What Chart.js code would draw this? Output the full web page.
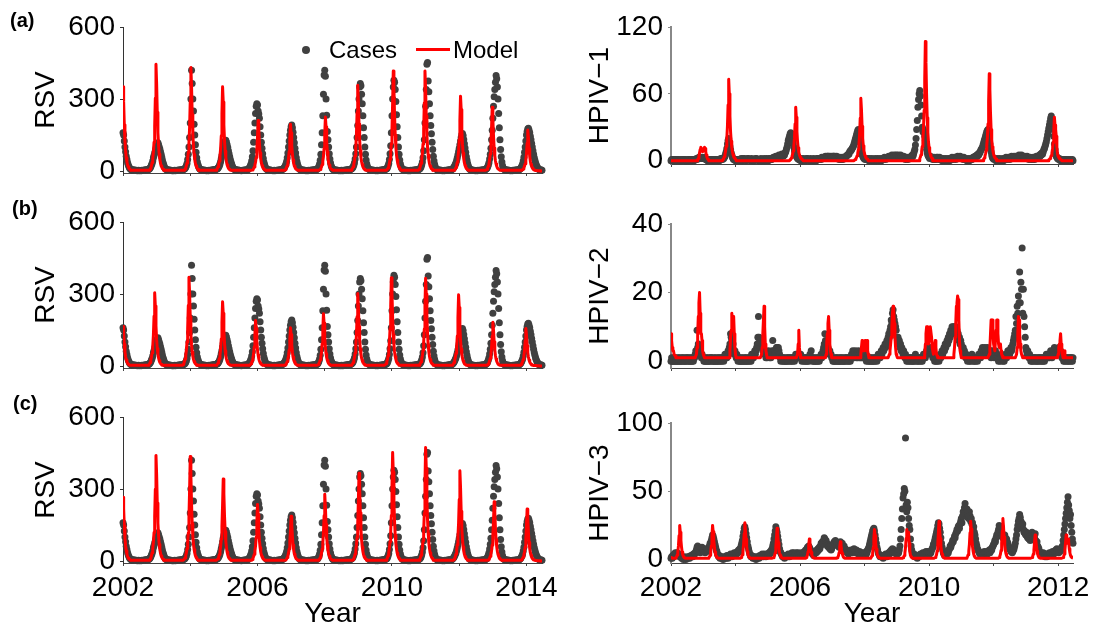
<!DOCTYPE html>
<html>
<head>
<meta charset="utf-8">
<script src="https://cdn.jsdelivr.net/npm/chart.js@4.4.1/dist/chart.umd.min.js"></script>
<style>
  html, body { margin: 0; padding: 0; background: #fff; }
  #wrap { position: relative; width: 1096px; height: 631px; overflow: hidden; background: #fff; font-family: "Liberation Sans", Arial, sans-serif; }
  #wrap canvas { position: absolute; }
  .tag { position: absolute; font-weight: bold; font-size: 20px; line-height: 20px; color: #000; }
  .leg { position: absolute; font-size: 24px; line-height: 24px; color: #000; }
  .dot { position: absolute; width: 8px; height: 8px; border-radius: 50%; background: #404040; }
  .rline { position: absolute; width: 34px; height: 3px; background: #ff0000; }
</style>
</head>
<body>
<div id="wrap">
  <canvas id="rsvA" width="580" height="195" style="left:0;top:0"></canvas>
  <canvas id="rsvB" width="580" height="195" style="left:0;top:195px"></canvas>
  <canvas id="rsvC" width="580" height="241" style="left:0;top:390px"></canvas>
  <canvas id="hpiv1" width="544" height="195" style="left:556px;top:0"></canvas>
  <canvas id="hpiv2" width="544" height="195" style="left:556px;top:195px"></canvas>
  <canvas id="hpiv3" width="544" height="241" style="left:556px;top:390px"></canvas>

  <div class="tag" style="left:10px;top:10px">(a)</div>
  <div class="tag" style="left:12px;top:198px">(b)</div>
  <div class="tag" style="left:13px;top:393px">(c)</div>

  <div class="dot" style="left:302px;top:46px"></div>
  <span class="leg" style="left:329px;top:38px">Cases</span>
  <div class="rline" style="left:416px;top:48px"></div>
  <span class="leg" style="left:453px;top:38px">Model</span>
</div>
<script>
Chart.defaults.font.family = '"Liberation Sans", Arial, sans-serif';

// weekly values, one row per year starting 2002 (last row ends mid 2014)
const startYear = 2002;
const xMax = 2014 + 24 / 52;
const yearTicks = [2002, 2004, 2006, 2008, 2010, 2012, 2014];
const leftYearLabels = ['2002', '', '2006', '', '2010', '', '2014'];
const rightYearLabels = ['2002', '', '2006', '', '2010', '', '2012'];
const rsvTicks = [0, 300, 600];
const hpiv1Ticks = [0, 60, 120];
const hpiv2Ticks = [0, 20, 40];
const hpiv3Ticks = [0, 50, 100];

const rsvCases = [
  [160,150,125,100,80,62,48,36,26,19,14,10,8, 6,5,4,5,3,4,2,3,2,1,2,3,1,2,2,1,3,2,2,3,4,3,5,4,6,5,7, 8,10,14,18,25,32,42,55,65,75,85,95],
  [105,112,118,110,100,92,80,70,58,45,35,26,18,12,9,7, 6,5,4,3,4,2,3,2,1,2,1,2,3,1,2,2,3,2,4,3,4,5,4,6,5,7,8,9, 12,16,22,32,48,70,100,140],
  [200,300,420,365,300,250,195,150,110,78,55,38,26,18,12,9, 7,6,5,4,3,4,2,3,2,1,2,2,1,3,2,2,3,4,3,5,4,6,5,7,8,9, 10,13,17,22,30,40,52,65,80,95],
  [108,118,125,128,120,110,98,85,72,60,48,38,29,21,15,11,8,7, 6,5,4,3,4,2,3,2,2,1,2,3,2,3,4,3,5,4, 5,7,9,12,16,22,30,42,60,85,120,160,200,240,270,280],
  [275,250,238,220,185,150,120,95,72,52,37,26,18,12,9,7, 6,5,4,3,4,3,2,2,1,2,3,1,2,2,3,2,4,3,5,4,5,6, 7,8,10,13,17,22,30,40,55,75,100,125,150,170],
  [185,192,180,162,140,118,95,75,56,40,28,19,13,9,7,6, 5,4,3,4,2,3,2,1,2,2,1,3,2,2,3,2,4,3,4,5,4,6,5,7, 8,10,14,20,30,45,70,110,160,230,320,400],
  [420,395,300,232,165,130,100,72,50,34,22,15,10,7, 6,5,4,3,4,2,3,2,1,2,2,1,3,2,1,2,3,2,4,3,5,4,6,5,7,6,8,9, 11,14,18,25,35,50,72,100,140,190],
  [250,300,350,365,355,320,280,230,180,140,100,70,46,30,19,12,9,7, 6,5,4,3,4,2,3,2,2,1,2,3,1,2,2,3,2,4,3,5,4,6,5,7,8,9, 11,15,22,32,48,72,105,160],
  [230,300,350,378,370,340,290,235,185,140,100,70,46,30,19,12,9,7, 6,5,4,3,2,3,2,1,2,2,1,3,2,2,3,2,4,3,4,5,4,6,5,7,8,10, 13,18,26,38,56,85,130,200],
  [270,340,445,452,375,330,280,230,190,155,120,90,62,42,27,17,11,8, 6,5,4,3,4,2,3,2,1,2,2,1,3,2,2,3,4,3,5,4,6,5, 6,8,10,13,17,22,28,35,45,55,68,82],
  [95,110,125,140,152,156,148,132,114,96,78,60,45,32,22,14,9,7, 6,5,4,3,2,3,2,1,2,2,1,3,2,2,3,2,4,3,4,5,4,5, 6,8,10,13,18,25,35,50,70,95,130,170],
  [220,270,310,340,370,398,385,350,300,240,180,130,90,60,38,22,13,9, 7,6,5,4,3,4,2,3,2,1,2,2,1,3,2,3,2,4,3,5,4,5, 5,7,9,12,16,22,30,42,58,78,100,125],
  [150,165,175,178,170,160,145,130,115,100,85,70,57,45,35,27,20,15,11,8,6,5,4,4,3]
];

const rsvModelA = [
  [351,288,193,126,84,56,39,26,18,12,9,6, 3,3,3,3,3,3,3,3,3,3, 3,3,3,3,3,3,3,3,3,3, 3,3,3,3,3,3,3,3,3,3, 9,13,22,36,53,80,120,187,303,445],
  [365,245,160,107,71,49,33,22,16,11,8, 3,3,3,3,3,3,3,3,3,3, 3,3,3,3,3,3,3,3,3,3, 3,3,3,3,3,3,3,3,3,3, 3,3,3, 9,13,22,34,52,78,116,181],
  [293,431,353,237,155,103,69,47,32,22,15,11,8, 3,3,3,3,3,3,3,3,3,3, 3,3,3,3,3,3,3,3,3,3, 3,3,3,3,3,3,3,3, 7,11,18,28,42,63,95,147,239,351,288],
  [193,126,84,56,39,26,18,12,9,6, 3,3,3,3,3,3,3,3,3,3, 3,3,3,3,3,3,3,3,3,3, 3,3,3,3,3,3,3,3,3,3, 3,3,3,3, 4,6,11,17,25,38,57,89],
  [143,211,173,116,76,51,34,23,16,11,7,5,4, 3,3,3,3,3,3,3,3,3,3, 3,3,3,3,3,3,3,3,3,3, 3,3,3,3,3,3,3,3,3, 4,6,10,16,23,35,53,82,133,195],
  [160,107,70,47,31,21,15,10,7,5,4, 3,3,3,3,3,3,3,3,3,3, 3,3,3,3,3,3,3,3,3,3, 3,3,3,3,3,3,3,3,3,3, 3,3,3, 5,7,11,18,27,41,61,95],
  [153,225,185,124,81,54,36,25,17,11,8,6,4, 3,3,3,3,3,3,3,3,3,3, 3,3,3,3,3,3,3,3,3,3, 3,3,3,3,3,3,3,3,3, 7,11,18,29,43,64,96,150,243,357],
  [293,196,129,86,57,39,27,18,12,9,6, 3,3,3,3,3,3,3,3,3,3, 3,3,3,3,3,3,3,3,3,3, 3,3,3,3,3,3,3,3,3,3, 3,3,3,3, 8,13,21,33,50,75,113],
  [175,284,417,342,229,150,100,67,46,31,21,15,10,8, 3,3,3,3,3,3,3,3,3,3, 3,3,3,3,3,3,3,3,3,3, 3,3,3,3,3,3,3,3, 8,13,21,33,50,75,113,175,284,417],
  [342,229,150,100,67,46,31,21,15,10,8, 3,3,3,3,3,3,3,3,3,3, 3,3,3,3,3,3,3,3,3,3, 3,3,3,3,3,3,3,3,3,3, 3,3,3,3, 6,9,16,25,37,56,84],
  [131,212,312,256,172,112,75,50,34,23,16,11,8,6, 3,3,3,3,3,3,3,3,3,3, 3,3,3,3,3,3,3,3,3,3, 3,3,3,3,3,3,3,3, 5,8,13,21,32,48,72,112,181,266],
  [218,146,96,64,43,29,20,13,9,7,5, 3,3,3,3,3,3,3,3,3,3, 3,3,3,3,3,3,3,3,3,3, 3,3,3,3,3,3,3,3,3,3, 3,3,3,3, 3,5,9,14,21,31,46],
  [72,116,171,140,94,62,41,27,19,13,9,6,4,3, 3,2,2,2,1,1,1,1,0,0,0]
];

const rsvModelB = [
  [165,135,91,59,40,26,18,12,8,6,4, 3,3,3,3,3,3,3,3,3,3, 3,3,3,3,3,3,3,3,3,3, 3,3,3,3,3,3,3,3,3, 6,9,15,24,37,55,82,128,207,305,250,168],
  [110,73,49,34,23,15,11,8,5, 3,3,3,3,3,3,3,3,3,3, 3,3,3,3,3,3,3,3,3,3, 3,3,3,3,3,3,3,3,3,3, 3,3, 7,11,19,30,44,67,100,155,252,370,303],
  [204,133,89,59,41,28,19,13,9,7, 3,3,3,3,3,3,3,3,3,3, 3,3,3,3,3,3,3,3,3,3, 3,3,3,3,3,3,3,3,3,3, 3, 5,8,13,21,32,48,72,113,182,268,220],
  [147,96,64,43,29,20,13,9,7,5, 3,3,3,3,3,3,3,3,3,3, 3,3,3,3,3,3,3,3,3,3, 3,3,3,3,3,3,3,3,3,3, 4,6,10,15,23,34,51,80,129,190,156,105],
  [68,46,30,21,14,10,7,5,3, 3,3,3,3,3,3,3,3,3,3, 3,3,3,3,3,3,3,3,3,3, 3,3,3,3,3,3,3,3,3,3, 3,3,3, 3,5,8,13,19,29,43,67,109,160],
  [131,88,58,38,26,18,12,8,6,4,3, 3,3,3,3,3,3,3,3,3,3, 3,3,3,3,3,3,3,3,3,3, 3,3,3,3,3,3,3,3,3,3, 4,7,11,17,26,39,59,92,148,218,179],
  [120,78,52,35,24,16,11,8,5,4, 3,3,3,3,3,3,3,3,3,3, 3,3,3,3,3,3,3,3,3,3, 3,3,3,3,3,3,3,3,3,3, 3,3, 6,9,15,24,36,54,82,127,205,302],
  [248,166,109,72,48,33,23,15,11,8,5, 3,3,3,3,3,3,3,3,3,3, 3,3,3,3,3,3,3,3,3,3, 3,3,3,3,3,3,3,3,3,3, 3, 7,11,18,29,44,66,99,155,250,368],
  [302,202,132,88,59,40,28,18,13,9,7, 3,3,3,3,3,3,3,3,3,3, 3,3,3,3,3,3,3,3,3,3, 3,3,3,3,3,3,3,3,3,3, 3,3, 7,11,18,29,44,66,99,154,249],
  [366,300,201,132,88,59,40,27,18,13,9,7, 3,3,3,3,3,3,3,3,3,3, 3,3,3,3,3,3,3,3,3,3, 3,3,3,3,3,3,3,3,3,3, 6,9,15,24,36,53,80,125,202,297],
  [244,163,107,71,48,33,22,15,10,7,5, 3,3,3,3,3,3,3,3,3,3, 3,3,3,3,3,3,3,3,3,3, 3,3,3,3,3,3,3,3,3,3, 3,3, 4,5,9,15,22,33,49,77,124],
  [183,150,101,66,44,29,20,14,9,6,5,3, 3,3,3,3,3,3,3,3,3,3, 3,3,3,3,3,3,3,3,3,3, 3,3,3,3,3,3,3,3,3,3, 3,5,8,13,19,28,42,66,107,157],
  [129,86,57,38,25,17,12,8,5,4,3, 3,2,2,2,2,1,1,1,1,1,0,0,0,0]
];

const rsvModelC = [
  [266,218,146,96,64,43,29,20,13,9,7,5, 3,3,3,3,3,3,3,3,3,3, 3,3,3,3,3,3,3,3,3,3, 3,3,3,3,3,3,3,3,3,3, 9,13,22,35,53,79,119,185,299,440],
  [361,242,158,106,70,48,33,22,15,11,8, 3,3,3,3,3,3,3,3,3,3, 3,3,3,3,3,3,3,3,3,3, 3,3,3,3,3,3,3,3,3,3, 3,3, 9,13,22,35,52,78,117,183,296],
  [435,357,239,157,104,70,48,33,22,15,11,8, 3,3,3,3,3,3,3,3,3,3, 3,3,3,3,3,3,3,3,3,3, 3,3,3,3,3,3,3,3,3,3, 7,10,17,27,41,62,92,144,233,342],
  [280,188,123,82,55,38,26,17,12,9,6, 3,3,3,3,3,3,3,3,3,3, 3,3,3,3,3,3,3,3,3,3, 3,3,3,3,3,3,3,3,3,3, 3,3, 5,7,12,19,28,42,64,99,160],
  [236,194,130,85,57,38,26,18,12,8,6,4, 3,3,3,3,3,3,3,3,3,3, 3,3,3,3,3,3,3,3,3,3, 3,3,3,3,3,3,3,3,3,3, 3, 4,6,9,15,22,34,50,79,127],
  [187,153,103,67,45,30,21,14,9,7,5,3, 3,3,3,3,3,3,3,3,3,3, 3,3,3,3,3,3,3,3,3,3, 3,3,3,3,3,3,3,3,3,3, 3, 6,8,14,22,33,50,75,117,189],
  [278,228,153,100,67,44,31,21,14,10,7,5, 3,3,3,3,3,3,3,3,3,3, 3,3,3,3,3,3,3,3,3,3, 3,3,3,3,3,3,3,3,3,3, 3,3, 7,11,18,29,44,66,99,154],
  [249,366,300,201,132,88,59,40,27,18,13,9,7, 3,3,3,3,3,3,3,3,3,3, 3,3,3,3,3,3,3,3,3,3, 3,3,3,3,3,3,3,3,3,3, 3, 9,14,23,36,54,81,122,190],
  [307,452,371,249,163,108,72,50,34,23,16,11,8, 3,3,3,3,3,3,3,3,3,3, 3,3,3,3,3,3,3,3,3,3, 3,3,3,3,3,3,3,3,3,3, 9,14,24,38,57,85,128,199,322],
  [473,388,260,170,114,76,52,35,24,17,12,9, 3,3,3,3,3,3,3,3,3,3, 3,3,3,3,3,3,3,3,3,3, 3,3,3,3,3,3,3,3,3,3, 3,3, 8,11,19,30,45,68,102,158],
  [256,376,308,207,135,90,60,41,28,19,13,9,7, 3,3,3,3,3,3,3,3,3,3, 3,3,3,3,3,3,3,3,3,3, 3,3,3,3,3,3,3,3,3,3, 3,3, 5,7,12,20,30,44,67],
  [104,168,247,203,136,89,59,40,27,19,12,9,6,4, 3,3,3,3,3,3,3,3,3,3, 3,3,3,3,3,3,3,3,3,3, 3,3,3,3,3,3,3,3,3,3, 4,7,11,17,26,39,59,91],
  [148,217,178,119,78,52,35,24,16,11,8,5,4, 3,3,2,2,2,1,1,1,1,0,0,0]
];

const hpiv1Cases = [
  [0,1,0,1,1,0,0,1,0,1, 1,0,1,0,0,1,0,0,1,1, 0,1,0,1,0,0,0,1,1,0, 1,0,0,1,1,0,1,0,1,1, 1,2,1,2,2,3,2,3,2,2, 3,2],
  [2,2,3,2,1,1,1,0,0,1,1, 0,0,1,1,0,0,1,0,1,0,1,1,0,1,1,0,1,2,1,2,1,2,2, 3,4,6,8,11,15,18,20,17,13,10,7, 5,3,2,1,1,1],
  [0,1,1,0,1,1,0,1,1,2, 1,0,2,1,2,1,1,0,1,2, 1,2,1,1,0,1,2,1,0,1, 0,1,2,1,2,1,1,0,1,0, 1,2,0,1,0,1,2,1,0,1, 2,1],
  [1,0,2,1,2,1,1,2,2,3,2, 2,3,4,3,2,4,3,5,4,3,5,4,6,5,4,6,5,7,8, 10,12,15,18,20,22,24,25,23,21,18,15, 12,9,7,5,4,3,2,2,1,1],
  [1,0,2,1,0,1,2,1,1,0, 1,2,2,1,1,0,1,2,1,0, 1,0,2,1,0,1,0,2,1,2, 2,1,2,2,1,3,2,2,3,2, 3,4,2,3,4,4,3,4,2,3, 4,3],
  [3,4,4,3,4,2,3,4,2,3, 2,1,3,2,1,2,3,1,2,3, 3,3,4,4,5,5,6,6,8,9, 9,10,11,12,13,15,17,19,21,23,25,27, 28,24,20,16,12,9,6,4,3,2],
  [2,1,2,1,1,2,1,0,2,1, 0,1,2,1,0,1,0,2,1,0, 1,2,0,1,1,2,1,0,1,2, 1,2,3,2,1,2,3,2,3,4, 3,2,4,3,5,4,3,4,5,4, 3,5],
  [4,3,5,4,3,4,5,3,4,2,3,4,2,3,1,2,3,2,1,2, 2,3,2,4,3,5,4,6,8,10,14,20,28,36,48,55, 60,63,58,50,40,30,26,28,25,22,18,14,10,7,5,4],
  [3,2,4,3,2,3,1,2,3,1, 2,1,3,2,3,2,1,3,2,1, 2,0,1,2,1,0,1,2,1,0, 1,2,1,0,1,2,1,3,2,1, 2,3,2,1,3,2,4,3,2,3, 4,3],
  [2,3,2,1,3,2,1,2,1,0, 1,2,1,0,1,2,1,1,2,3, 2,3,4,3,4,5,4,6,5,7, 7,9,10,11,12,14,16,18,20,22,24,26, 27,28,24,20,15,11,8,5,3,2],
  [2,1,2,1,0,1,2,1,0,1, 2,1,0,1,1,2,0,1,2,1, 3,2,1,2,3,2,1,3,2,4, 3,2,3,4,2,3,4,3,2,4, 3,5,4,3,4,5,3,4,2,3, 4,3],
  [2,3,4,2,3,1,2,3,2,1, 2,1,3,2,1,2,3,4,3,2, 4,3,5,4,6,5,7,6,8,10, 11,13,15,17,20,23,26,29,32,35,38,40, 36,33,28,22,15,10,6,4,3,2],
  [2,1,2,1,0,1,0,1,0,0,1,1,0,0,1,0,0,1,0,0,1,0,0,1,0]
];

const hpiv1Model = [
  [0,0,0,0,0,0,0,0,0,0, 0,0,0,0,0,0,0,0,0,0, 0,0,0,0,0,0,0,0,0,0, 0,0,0,0,0,0,0,0,0,0, 0,0,0, 1,2,4,7,10,12,11,9,8],
  [9,11,12,11,8,5,3,1.5,1, 0,0,0,0,0,0,0,0,0,0, 0,0,0,0,0,0,0,0,0,0, 0,0,0, 1.5,2.2,3.7,5.8,8.8,13,20,31,50,73,60,40,26,17.5,11.7,8,5.5,3.7,2.6,1.8],
  [1.3, 0,0,0,0,0,0,0,0,0,0, 0,0,0,0,0,0,0,0,0,0, 0,0,0,0,0,0,0,0,0,0, 0,0,0,0,0,0,0,0,0,0, 0,0,0,0,0,0,0,0,0,0, 0],
  [0,0,0,0,0,0,0,0,0,0, 0,0,0,0,0,0,0,0,0,0, 0,0,0,0,0,0,0,0,0,0, 0,0,0,0,0,0, 1,1.4,2.4,3.8,5.8,8.6,13,20,33,48,39,26,17,11.5,7.7,5.3],
  [3.6,2.4,1.7,1.2,0.9, 0,0,0,0,0,0,0,0,0,0, 0,0,0,0,0,0,0,0,0,0, 0,0,0,0,0,0,0,0,0,0, 0,0,0,0,0,0,0,0,0,0, 0,0,0,0,0,0,0],
  [0,0,0,0,0,0,0,0,0,0, 0,0,0,0,0,0,0,0,0,0, 0,0,0,0,0,0,0,0,0,0, 0,0,0,0,0,0,0, 1.1,1.7,2.8,4.5,6.7,10,15,23.5,38,56,46,31,20,13.4,9],
  [6.2,4.2,2.8,2,1.4,1, 0,0,0,0,0,0,0,0,0,0, 0,0,0,0,0,0,0,0,0,0, 0,0,0,0,0,0,0,0,0,0, 0,0,0,0,0,0,0,0,0,0, 0,0,0,0,0,0],
  [0,0,0,0,0,0,0,0,0,0, 0,0,0,0,0,0,0,0,0,0, 0,0,0,0,0,0,0,0,0,0, 0,0,0,0,0,0,0, 2.1,3.2,5.4,8.6,12.8,19,29,45,73,107,88,59,38.5,25.7,17],
  [11.8,8,5.4,3.7,2.7,1.9, 0,0,0,0,0,0,0,0,0,0, 0,0,0,0,0,0,0,0,0,0, 0,0,0,0,0,0,0,0,0,0, 0,0,0,0,0,0,0,0,0,0, 0,0,0,0,0,0],
  [0,0,0,0,0,0,0,0,0,0, 0,0,0,0,0,0,0,0,0,0, 0,0,0,0,0,0,0,0,0,0, 0,0,0,0,0,0, 1.6,2.3,3.9,6.2,9.4,14,21,33,53,78,64,43,28,18.7,12.5,8.6],
  [5.9,3.9,2.7,2,1.4, 0,0,0,0,0,0,0,0,0,0, 0,0,0,0,0,0,0,0,0,0, 0,0,0,0,0,0,0,0,0,0, 0,0,0,0,0,0,0,0,0,0, 0,0,0,0,0,0,0],
  [0,0,0,0,0,0,0,0,0,0, 0,0,0,0,0,0,0,0,0,0, 0,0,0,0,0,0,0,0,0,0, 0,0,0,0,0,0,0, 0.8,1.2,2,3.1,4.7,7,10.5,16.4,26.5,39,32,28,22,12,6],
  [4,2.9,2,1.4,1,0.7, 0,0,0,0,0,0,0,0,0,0, 0,0,0,0,0,0,0,0,0]
];

const hpiv2Cases = [
  [0,1,0,0,1,0,1,0,0,1, 0,0,1,0,1,0,0,1,0,1, 0,1,0,0,1,0,1,1,0,0, 1,0,1,0,0,1,0,1, 1,2,3,2,9,4,5,3,2,3,2,1,2,1],
  [1,0,1,0,0,1,0,1,0,0, 1,0,1,1,0,1,0,0,1,0, 1,0,0,1,0,1,0,1,0,1, 0,1,1,0,1,2,1,2,1,2, 3,2,4,5,8,7,6,4,5,3,2,3],
  [2,1,2,1,0,1,1,0, 0,1,0,1,0,0,1,0,1,0,1,0,0,1,1,0,1,0,2,1,2,1,2,3,2,3,4, 5,7,13,7,6,5,4,6,5,3,4,3,2,2,1,2,1],
  [2,3,2,1,2,1,2,3,6,2,3,2,3,2,4,4,3,4,3,2, 1,0,1,1,0,1,0,1,0,0, 1,0,1,0,1,1,0,1,0,1, 0,1,1,0,1,2,1,2,1,2, 1,2],
  [1,2,1,0,1,1,0,1,0,1, 0,1,0,1,0,1,2,1,3,1, 0,1,0,1,0,0,1,0,1,0, 1,0,1,1,2,1,2,3,4,5, 8,6,5,4,3,4,3,2,3,2, 2,1],
  [1,0,1,0,0,1,0,1,0,1, 0,0,1,0,1,0,1,0,0,1, 0,1,0,1,1,0,1,0,1,0, 1,2,1,3,2,1,2,3,2,1, 2,1,3,2,1,2,1,2,1,2, 1,2],
  [1,2,1,0,1,1,0,1,0,1, 0,1,0,0,1,0,1,0,1,1, 0,1,2,1,2,1, 2,3,2,3,4,3,4,5,4,5, 6,5,7,8,7,9,10,12,11,14, 15,13,12,11,10,9],
  [7,6,7,5,6,4,5,3,4,3,2,3,2,1,2,1, 0,1,0,1,1,0,1,0,1,0, 1,0,0,1,2,1,0,1,0,1, 0,1,1,0,1,0,1,2,1,2, 1,2,3,2,3,4],
  [3,4,3,2,3,2,1,2,1,0, 1,0,1,0,1,1,0,1,2,1, 2,3,2,3,4,3,5,4,5,6, 5,7,6,8,7,9,8,10,9,10, 8,10,9,10,8,9,7,8,6,7, 5,6],
  [5,4,3,4,2,3,2,1,2,1, 0,1,1,0,1,0,1,2,1,0, 1,0,1,0,1,1,0,1,2,1, 2,1,3,2,4,3,2,3,4,2, 3,2,4,3,2,3,2,3,1,2, 3,2],
  [2,1,2,3,2,1,2,1,0,1, 1,0,1,2,1,0,1,0,1,1, 2,1,2,3,2,3,2,3,4,3, 4,5,6, 7,8,9,13,11,16,14,19,17,26,17,23,21,33,14,21,13,10,7],
  [4,3,2,3,2,1,2,1,0,1, 0,1,0,1,1,0,1,0,1,0, 1,0,1,1,0,1,0,1,0,1, 0,1,1,2,1,2,1,2,1,2, 3,2,1,2,3,2,4,3,2,3, 2,3],
  [3,4,3,2,3,2,1,2,1,0,1,0,1,1,0,1,0,1,0,1,1,0,1,0,1]
];

const hpiv2Model = [
  [8,6,4,3,3,2,2,1.5,1, 1,1,1,1,1,1,1,1,1,1, 1,1,1,1,1,1,1,1,1,1, 1,1,1,1,1,1,1,1,1,1, 1,1, 2,4,8,13,17,20,14,8,8,6,3],
  [2,1.5,1,1, 1,1,1,1,1,1,1,1,1,1, 1,1,1,1,1,1,1,1,1,1, 1,1,1,1,1,1,1,1,1,1, 1,1,1,1,1,1,1,1,1, 3,7,9,14,12,11,13,8,4],
  [2,1,1, 1,1,1,1,1,1,1,1,1,1, 1,1,1,1,1,1,1,1,1,1, 1,1,1,1,1,1,1,1,1,1, 1,1,1,1,1,1,1,1,1, 2,4,8,12,16,10,5,3,2,1],
  [1,1,1,1,1,1,1,1,1,1, 1,1,1,1,1,1,1,1,1,1, 1,1,1,1,1,1,1,1,1,1, 1,1,1,1,1,1,1,1,1,1, 1,1,1,1,1,1,1,1, 2,5,9,4],
  [2,1, 1,1,1,1,1,1,1,1,1,1, 1,1,1,1,1,1,1,1,1,1, 1,1,1,1,1,1,1,1,1,1, 1,1,1,1,1,1,1,1,1,1, 2,5,8,11,13,9,5,3,2,1],
  [1,1,1,1,1,1,1,1,1,1, 1,1,1,1,1,1,1,1,1,1, 1,1,1,1,1,1,1,1,1,1, 1,1,1,1,1,1,1,1,1,1, 1,1,1,1,1,1, 2,4,6,5,3,4],
  [5,6,4,3,6,3,2, 1,1,1,1,1,1,1,1,1,1, 1,1,1,1,1,1,1,1,1,1, 1,1,1,1,1,1,1,1,1,1, 1,1,1, 2,3,5,7,10,14,16,15,11,7,4,2],
  [1.5,1, 1,1,1,1,1,1,1,1,1,1, 1,1,1,1,1,1,1,1,1,1, 1,1,1,1,1,1,1,1,1,1, 1,1,1,1,1,1,1,1,1,1, 1,1,1, 2,5,8,10,10,7,5],
  [6,8,10,10,7,4,3,2,3,5,6,4,2,1.5,1, 1,1,1,1,1,1,1,1,1,1, 1,1,1,1,1,1,1,1,1,1, 1,1,1,1,1, 2,4,7,11,16,17,19,18,12,6,3,2],
  [1,1,1,1,1,1,1,1,1,1, 1,1,1,1,1,1,1,1,1,1, 1,1,1,1,1,1,1,1,1,1, 1,1,1,1,1,1,1,1,1,1, 1,1,1,1,1, 2,4,8,12,11,12,8],
  [5,4,3,6,9,12,12,8,5,4,5,5,3,2,1.5,1, 1,1,1,1,1,1,1,1,1,1, 1,1,1,1,1,1,1,1,1,1, 1, 2,4,8,13,12,8,5,3,2,1.5,1,1,1,1,1],
  [1,1,1,1,1,1,1,1,1,1, 1,1,1,1,1,1,1,1,1,1, 1,1,1,1,1,1,1,1,1,1, 1,1,1,1,1,1,1,1,1,1, 1,1,1,1,1,1,1,1,1,1, 1,1],
  [2,4,5,6,8,5,3,2, 1,2,3,1.5, 1,1,1,1,1,1,1,1,1,1,1,1,1]
];

const hpiv3Cases = [
  [1,2,1,3,2,4,3,5,4,3, 5,4,3,4,2,3,2,1,2,1, 0,1,2,1,0,1,1,2,1,2, 1,2,3,2,3,2,4,3,4,5, 6,7,9,10,8,6,7,5,6,8, 9,7],
  [8,6,7,5,6,8,6,7,8,9, 10,12,11,14,16,18,17,15,13,11, 9,7,6,4,3,2,3,1,2,1, 2,1,0,1,2,1,2,1,3,2, 1,2,3,2,4,3,2,3,4,3, 5,4],
  [3,5,4,6,5,7,6,8,7,10, 12,14,17,20,23,24,22,19,16,13, 10,8,6,4,3,2,3,2,1,2, 1,2,1,0,1,2,1,2,1,3, 2,3,2,4,3,2,3,4,3,2, 3,4],
  [3,4,5,4,6,5,7,8,10,12, 15,18,21,24,22,20,17,14,11,8, 6,5,4,3,2,3,2,1,2,3, 2,3,2,4,3,2,3,4,3,5, 4,3,5,4,3,4,5,3,4,5, 4,3],
  [4,3,5,4,3,5,4,6,5,7, 6,8,9,8,10,9,8,7,6,5, 4,5,3,4,5,6,5,7,6,8, 7,9,8,10,12,11,13,12,14,16, 15,13,14,12,10,11,9,10,8,9, 7,8],
  [10,11,12,13,12,14,13,11,12,10, 11,9,12,13,11,10,12,9,8,10, 7,8,6,7,5,6,4,5,6,5, 7,6,5,7,6,8,7,6,5,7, 6,5,4,5,6,4,5,3,4,5, 4,3],
  [4,5,3,6,5,7,8,9,11,13, 15,17,19,21,22,23,21,18,15,12, 9,7,5,4,3,2,3,2,3,2, 1,2,3,2,4,3,2,4,3,5, 4,6,5,7,6,8,5,6,7,5, 6,4],
  [5,4,6,5,7,10,15,22,30,37, 45,48,52,50,89,40,35,42,38,30, 25,22,15,10,7,5,4,3,4,2, 3,2,3,1,2,3,2,3,4,3, 4,3,5,4,3,5,4,6,5,4, 6,5],
  [5,4,6,5,7,8,9,11,12,14, 16,18,20,22,25,27,26,23,20,16, 12,9,7,5,4,3,4,3,5,4, 6,5,7,8,10,9,11,12,14,13, 15,17,16,19,20,22,21,24,25,23, 26,28],
  [30,27,32,35,33,38,41,36,34,37, 31,33,30,35,32,28,30,26,27,22, 24,20,18,15,12,10,8,7,6,5, 4,5,3,4,5,3,4,6,5,4, 5,6,4,5,6,7,5,6,8,7, 9,10],
  [11,12,14,13,16,18,17,20,22,25, 23,20,24,18,19,16,17,15,18,16, 14,15,13,12,10,9,8,7,6,7, 5,6,7,8,10,12,15,18,22,25, 28,30,33,31,28,27,24,26,22,20, 21,19],
  [18,20,17,16,19,15,17,14,18,16, 20,17,15,18,16,19,14,12,13,10, 9,8,6,5,4,5,3,4,5,3, 4,2,3,4,2,3,4,3,5,4, 3,5,4,6,5,4,6,5,7,6, 8,7],
  [6,5,7,6,8,7,9,10,14,18,22,26,30,34,38,42,46,40,36,30,33,25,20,15,12]
];

const hpiv3Model = [
  [1.5,1.2,1,1,1,1,1,1, 1.5,2,3.3,5.5,10,17.5,25,20,14,9,5.5,3.5,2.3,1.5,1.2, 1,1,1,1,1,1,1,1,1,1, 1,1,1,1,1,1,1,1,1,1, 1,1,1,1,1,1,1,1,1],
  [1,1,1,1,1,1,1,1,1, 1.4,2,3.2,5.6,10,17,25,20.5,14,9,5.6,3.4,2.2,1.5,1.2, 1,1,1,1,1,1,1,1,1,1, 1,1,1,1,1,1,1,1,1,1, 1,1,1,1,1,1,1,1],
  [1,1,1,1,1,1,1,1,1, 1.5,2.2,3.5,6,11,19,27,21.6,15,9.5,6,3.8,2.4,1.6,1.3, 1,1,1,1,1,1,1,1,1,1, 1,1,1,1,1,1,1,1,1,1, 1,1,1,1,1,1,1,1],
  [1,1,1,1,1,1,1,1,1, 1.4,1.8,3,5,9.2,16,23,18.4,12.6,8,5,3.2,2,1.4,1.2, 1,1,1,1,1,1,1,1,1,1, 1,1,1,1,1,1,1,1,1,1, 1,1,1,1,1,1,1,1],
  [1,1,1,1,1,1,1,1,1, 1.2,1.5,2,3.3,6,10.5,15,12,8.3,5.3,3.3,2.1,1.5,1.2,1, 1,1,1,1,1,1,1,1,1,1, 1,1,1,1,1,1,1,1,1,1, 1,1,1,1,1,1,1,1],
  [1,1,1,1,1,1,1, 1.2,1.4,1.7,2.9,5.2,9,13,10.4,7,4.5,2.9,1.8,1.3,1.1,1, 1,1,1,1,1,1,1,1,1,1, 1,1,1,1,1,1,1,1,1,1, 1,1,1,1,1,1,1,1,1,1],
  [1,1,1,1,1,1,1,1,1,1, 1.3,1.8,2.9,4.8,8.8,15.4,22,17.6,12,7.7,4.8,3,2,1.4,1.2, 1,1,1,1,1,1,1,1,1,1, 1,1,1,1,1,1,1,1,1,1, 1,1,1,1,1,1,1],
  [1,1,1,1,1,1,1,1,1,1, 1.3,1.8,2.9,4.8,8.8,15.4,22,17,15,20,12,6,3,2,1.4, 1,1,1,1,1,1,1,1,1,1, 1,1,1,1,1,1,1,1,1,1, 1,1,1,1,1,1,1],
  [1,1,1,1,1,1,1,1,1,1, 1.5,2.2,3.6,6.2,11.2,19.6,28,22.4,15.4,9.8,6.2,3.9,2.5,1.7,1.3, 1,1,1,1,1,1,1,1,1,1, 1,1,1,1,1,1,1,1,1,1, 1,1,1,1,1,1,1],
  [1,1,1,1,1,1,1,1,1, 1.5,2.2,3.6,6.2,11.2,19.6,28,22.4,15.4,9.8,6.2,3.9,2.5,1.7,1.3, 1,1,1,1,1,1,1,1,1,1, 1,1,1,1,1,1,1,1,1,1, 1,1,1,1,1,1,1,1],
  [1,1,1,1,1,1,1,1,1, 1.6,2.4,3.9,6.6,12,21,30,24,16.5,10.5,6.6,4.2,2.7,1.8,1.4, 1,1,1,1,1,1,1,1,1,1, 1,1,1,1,1,1,1,1,1,1, 1,1,1,1,1,1,1,1],
  [1,1,1,1,1,1,1,1,1, 1.3,1.5,2.3,4,7.2,12.6,18,14.4,10,6.3,4,2.5,1.6,1.2,1, 1,1,1,1,1,1,1,1,1,1, 1,1,1,1,1,1,1,1,1,1, 1,1,1,1,1,1,1,1],
  [1,1,1,1,1,1,1, 1.3,1.5,2.3,4,7.2,12.6,18,13,12,15,13,8,5,3,2,1.5,1.2,1]
];

function toPoints(rows) {
  const pts = [];
  rows.forEach((row, k) => {
    row.forEach((v, w) => pts.push({ x: startYear + k + w / 52, y: v }));
  });
  return pts;
}

function makePanel(id, p) {
  const font = { size: 28 };
  return new Chart(document.getElementById(id), {
    type: 'scatter',
    data: {
      datasets: [
        { label: 'Model', data: toPoints(p.model), showLine: true, borderColor: '#ff0000', borderWidth: 3,
          borderJoinStyle: 'round', pointRadius: 0, order: 0 },
        { label: 'Cases', data: toPoints(p.cases), showLine: false, pointRadius: 3.5,
          pointBackgroundColor: '#404040', pointBorderWidth: 0, order: 1, clip: false }
      ]
    },
    options: {
      responsive: false,
      devicePixelRatio: 1,
      animation: false,
      events: [],
      layout: { padding: { top: p.padTop, right: p.padRight, bottom: 0, left: 0 } },
      plugins: { legend: { display: false }, tooltip: { enabled: false } },
      scales: {
        x: {
          type: 'linear', min: startYear, max: xMax,
          afterBuildTicks: s => { s.ticks = yearTicks.map(v => ({ value: v })); },
          afterFit: s => { s.height = p.xHeight; },
          ticks: { autoSkip: false, maxRotation: 0, padding: 5, color: '#000', font,
                   callback: (v, i) => p.yearLabels ? p.yearLabels[i] : '' },
          grid: { display: true, drawOnChartArea: false, drawTicks: true, tickLength: 3, color: '#444' },
          border: { display: true, color: '#444', width: 1 },
          title: { display: !!p.yearLabels, text: 'Year', color: '#000', font, padding: 0 }
        },
        y: {
          min: p.yMin, max: p.yTicks[p.yTicks.length - 1],
          afterBuildTicks: s => { s.ticks = p.yTicks.map(v => ({ value: v })); },
          afterFit: s => { s.width = p.yWidth; },
          ticks: { padding: 5, color: '#000', font },
          grid: { display: true, drawOnChartArea: false, drawTicks: true, tickLength: 3, color: p.axisColor },
          border: { display: true, color: p.axisColor, width: p.axisWidth },
          title: { display: true, text: p.label, color: '#000', font, padding: { top: p.titlePad, bottom: 0 } }
        }
      }
    }
  });
}

const leftCol = { yWidth: 123, padRight: 38, yTicks: rsvTicks, yMin: -8, label: 'RSV', titlePad: 29, axisColor: '#333', axisWidth: 1 };
const rightCol = { yWidth: 115, padRight: 27, titlePad: 27, axisColor: '#888', axisWidth: 2 };

makePanel('rsvA', { ...leftCol, cases: rsvCases, model: rsvModelA, padTop: 27, xHeight: 22 });
makePanel('rsvB', { ...leftCol, cases: rsvCases, model: rsvModelB, padTop: 27, xHeight: 22 });
makePanel('rsvC', { ...leftCol, cases: rsvCases, model: rsvModelC, padTop: 27, xHeight: 68, yearLabels: leftYearLabels });
makePanel('hpiv1', { ...rightCol, cases: hpiv1Cases, model: hpiv1Model, yTicks: hpiv1Ticks, yMin: -3, label: 'HPIV\u22121', padTop: 27, xHeight: 31 });
makePanel('hpiv2', { ...rightCol, cases: hpiv2Cases, model: hpiv2Model, yTicks: hpiv2Ticks, yMin: -2, label: 'HPIV\u22122', padTop: 29, xHeight: 22 });
makePanel('hpiv3', { ...rightCol, cases: hpiv3Cases, model: hpiv3Model, yTicks: hpiv3Ticks, yMin: -2.5, label: 'HPIV\u22123', padTop: 33, xHeight: 68, yearLabels: rightYearLabels });
</script>
</body>
</html>
